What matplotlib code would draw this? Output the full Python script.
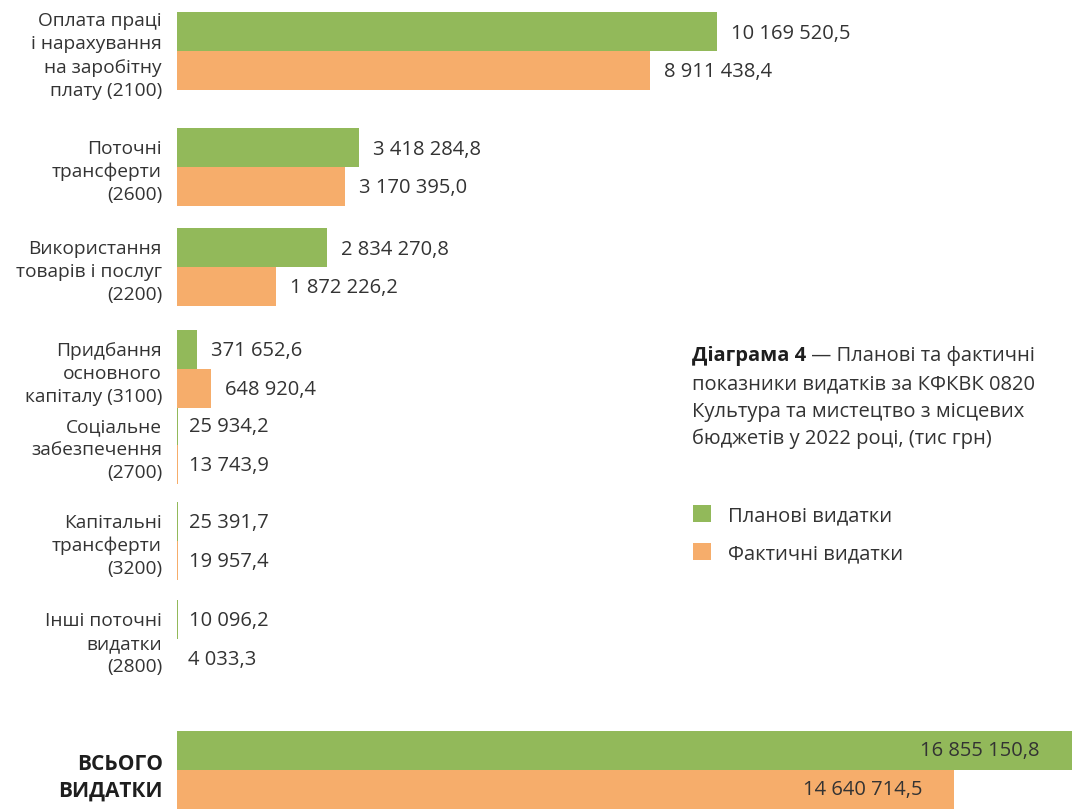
import matplotlib.pyplot as plt

plt.rcParams['font.family'] = ['Open Sans', 'DejaVu Sans']

# data (тис грн)
categories = [
    'Оплата праці\nі нарахування\nна заробітну\nплату (2100)',
    'Поточні\nтрансферти\n(2600)',
    'Використання\nтоварів і послуг\n(2200)',
    'Придбання\nосновного\nкапіталу (3100)',
    'Соціальне\nзабезпечення\n(2700)',
    'Капітальні\nтрансферти\n(3200)',
    'Інші поточні\nвидатки\n(2800)',
    'ВСЬОГО\nВИДАТКИ',
]
planned = [10169520.5, 3418284.8, 2834270.8, 371652.6, 25934.2, 25391.7, 10096.2, 16855150.8]
actual = [8911438.4, 3170395.0, 1872226.2, 648920.4, 13743.9, 19957.4, 4033.3, 14640714.5]
series_names = ['Планові видатки', 'Фактичні видатки']
caption_bold = 'Діаграма 4'
caption_lines = [' — Планові та фактичні',
                 'показники видатків за КФКВК 0820',
                 'Культура та мистецтво з місцевих',
                 'бюджетів у 2022 році, (тис грн)']

# layout: group centres in pixels (figure is 812 px tall)
group_y = [52, 168, 268, 370, 446, 542, 640, 771]
bar_h = 39
caption_y = [356, 384, 412, 439]

green = '#92b95a'
orange = '#f6ad6b'
txt = '#333333'

def fmt(v):
    s = f'{v:,.1f}'
    return s.replace(',', ' ').replace('.', ',')

fig = plt.figure(figsize=(10.77, 8.12), dpi=100)
ax = fig.add_axes([177 / 1077, 0, 900 / 1077, 1])
ax.set_xlim(0, 16.95e6)
ax.set_ylim(812, 0)
ax.axis('off')

yp = [y - bar_h / 2 for y in group_y]
ya = [y + bar_h / 2 for y in group_y]
b1 = ax.barh(yp, planned, height=bar_h, color=green, label=series_names[0])
b2 = ax.barh(ya, actual, height=bar_h, color=orange, label=series_names[1])

last = len(categories) - 1
for i in range(len(categories)):
    if i == last:
        for v, y in ((planned[i], yp[i]), (actual[i], ya[i])):
            ax.annotate(fmt(v), (v, y), xytext=(-32, 0), textcoords='offset pixels',
                        ha='right', va='center', fontsize=14.5, color=txt)
        ax.annotate(categories[i], (0, group_y[i]), xytext=(-14, -7), textcoords='offset pixels',
                    ha='right', va='center', ma='right', fontsize=15, fontweight='bold',
                    color='#1e1e1e', linespacing=1.32)
    else:
        off = 14 if planned[i] > 1e5 else 11
        for v, y in ((planned[i], yp[i]), (actual[i], ya[i])):
            ax.annotate(fmt(v), (v, y), xytext=(off, -1), textcoords='offset pixels',
                        ha='left', va='center', fontsize=14.5, color=txt)
        ax.annotate(categories[i], (0, group_y[i]), xytext=(-15, -4), textcoords='offset pixels',
                    ha='right', va='center', ma='right', fontsize=13.8, color=txt,
                    linespacing=1.36)

# chart caption
t1 = fig.text(692 / 1077, 1 - caption_y[0] / 812, caption_bold, fontsize=14.5, fontweight='bold',
              color='#1e1e1e', va='center', ha='left')
ax.annotate(caption_lines[0], xy=(1, 0), xycoords=t1, va='bottom', ha='left',
            fontsize=14.5, color=txt)
for line, y in zip(caption_lines[1:], caption_y[1:]):
    fig.text(692 / 1077, 1 - y / 812, line, fontsize=14.5, color=txt, va='center', ha='left')

fig.legend(handles=[b1, b2], loc='upper left', bbox_to_anchor=(693 / 1077, 1 - 506 / 812),
           frameon=False, prop={'size': 14.5}, handlelength=0.9,
           handleheight=0.9, handletextpad=0.85, labelspacing=0.88, borderpad=0,
           borderaxespad=0, labelcolor=txt)

fig.savefig('out.png', dpi=100)
